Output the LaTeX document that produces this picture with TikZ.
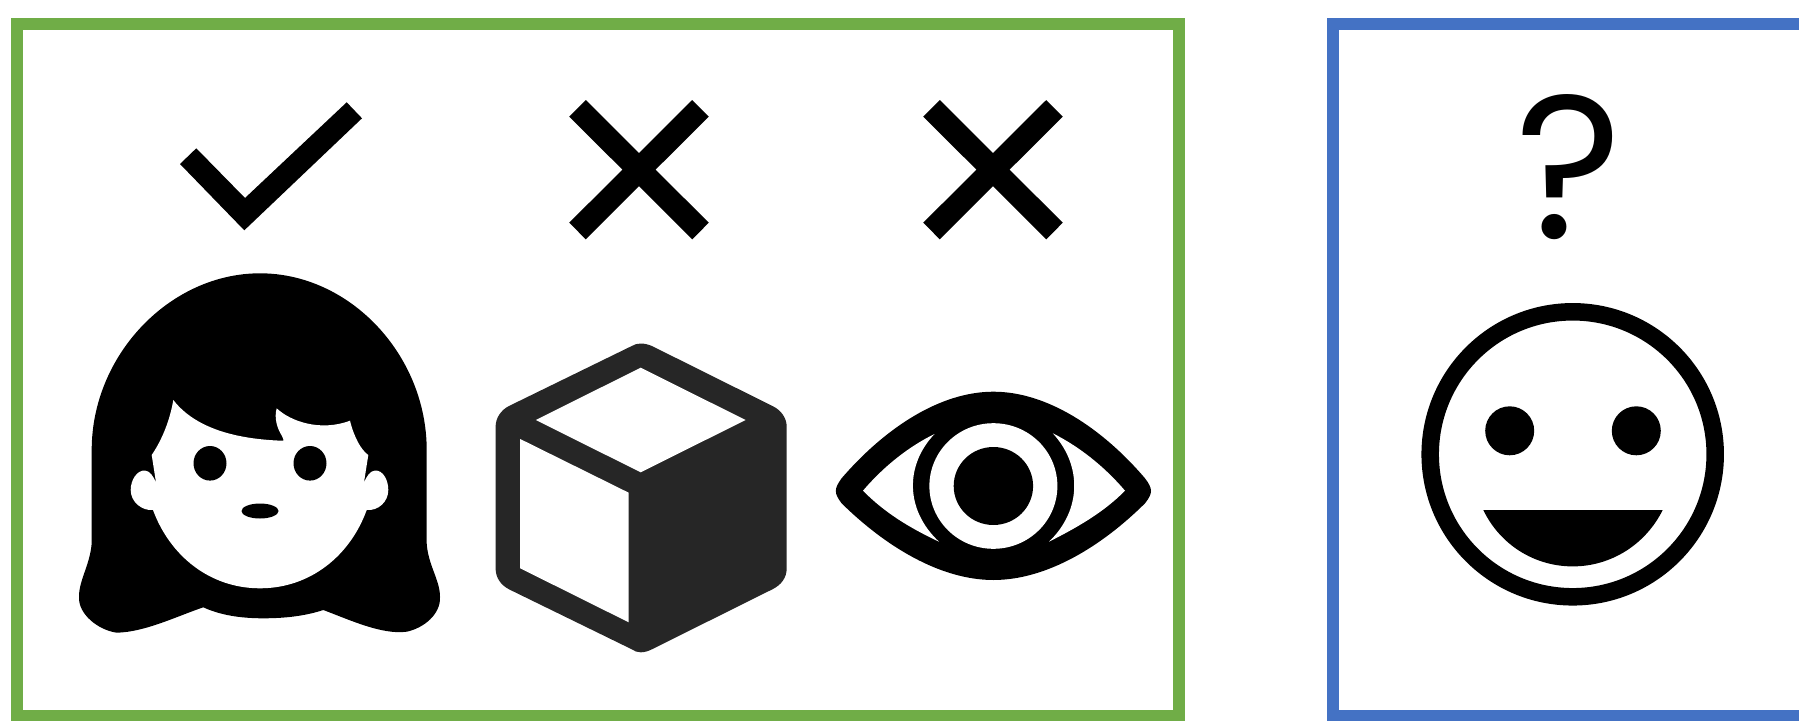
\documentclass[tikz,border=0pt]{standalone}
\usepackage{fontspec}
\usepackage{xcolor}
\setmainfont{Poppins}
\definecolor{green}{HTML}{70AD47}
\definecolor{blue}{HTML}{4472C4}
\definecolor{cubegray}{HTML}{262626}
\begin{document}
\begin{tikzpicture}[
  x=0.01cm, y=-0.01cm,
  framebox/.style={line width=0.12cm, miter limit=10},
  icon/.style={fill=black, draw=none},
  hole/.style={fill=white, draw=none},
  crossmark/.style={draw=black, line width=0.234cm}
]
\clip (0,0) rectangle (1799,721);
\fill[white] (0,0) rectangle (1799,721);

% frames
\draw[framebox, draw=green] (17,24) rectangle (1179,715.5);
\draw[framebox, draw=blue] (1333,24) rectangle (1900,715.5);

% marks above the icons
\fill[icon] (180,164) -- (196.3,148.3) -- (245,198) -- (346.7,102.3) -- (362,118.3) -- (244.3,230.3) -- cycle;
\draw[crossmark] (577.5,108.3) -- (700.5,231) (700.5,108.3) -- (577.5,231);
\draw[crossmark] (931.5,108.3) -- (1054.5,231) (1054.5,108.3) -- (931.5,231);
\node[inner sep=0pt, font=\fontsize{58}{60}\selectfont] (question) at (1569,167.5) {?};

% girl
\fill[icon] (260,273.3) .. controls (350,273.3) and (426.7,355) .. (426.7,450)
  -- (426.7,543.3) .. controls (428,565) and (440,580) .. (440,596.7)
  .. controls (441,614) and (424,628) .. (406.7,631.7)
  .. controls (382,635) and (350,620) .. (323.3,610)
  .. controls (305,616) and (285,618.3) .. (263.3,618.3)
  .. controls (240,618.3) and (220,615) .. (203.3,607.3)
  .. controls (175,617) and (145,632) .. (116.7,632.7)
  .. controls (98,630) and (78,614) .. (79,596.7)
  .. controls (79,580) and (90,565) .. (91.7,543.3)
  -- (91.7,450) .. controls (91.7,355) and (170,273.3) .. (260,273.3) -- cycle;
\fill[hole] (173.3,400) .. controls (195,428) and (235,439) .. (281.7,440.7)
  .. controls (285,441) and (283,439) .. (282,436)
  .. controls (277,428) and (274,418) .. (276.7,408.3)
  .. controls (290,421) and (320,432) .. (350,420.7)
  .. controls (354,437) and (361,450) .. (368.3,455)
  -- (364,482.3) .. controls (367,476) and (370,471) .. (375,470.5)
  .. controls (383,470) and (388.3,480) .. (388.3,490)
  .. controls (388.3,502) and (378,511) .. (366.7,510)
  .. controls (350,556) and (310,588.3) .. (260,588.3)
  .. controls (210,588.3) and (170,556) .. (153,510)
  .. controls (142,511) and (130.7,502) .. (130.7,490)
  .. controls (130.7,480) and (137,470) .. (145,470.5)
  .. controls (150,471) and (153,476) .. (156,482.3)
  -- (151.7,455) .. controls (162,440) and (170,420) .. (173.3,400) -- cycle;
\fill[icon] (210,463.3) ellipse (16.5 and 17.3);
\fill[icon] (310,463.3) ellipse (16.5 and 17.3);
\fill[icon] (260,511) ellipse (18.5 and 7.5);

% cube
\fill[cubegray] (631.8,346) .. controls (637,342.7) and (644,342.7) .. (651.9,346) -- (772.4,406)
  .. controls (781,410) and (786.7,418) .. (786.7,426.7) -- (786.7,568.3)
  .. controls (786.7,578) and (781,585) .. (772.4,589.3) -- (651.9,649.3)
  .. controls (644,653.3) and (637,653.3) .. (631.8,649.3) -- (509,589.3)
  .. controls (501,585) and (495.6,578) .. (495.6,568.3) -- (495.6,426.7)
  .. controls (495.6,418) and (501,410) .. (509,406) -- cycle;
\fill[hole] (640.7,367.7) -- (745.6,420) -- (640.7,472.3) -- (535.8,420) -- cycle;
\fill[hole] (520.2,439) -- (628.7,492.7) -- (628.7,622.3) -- (520.2,568.3) -- cycle;

% eye
\fill[icon] (841.6,478.3) .. controls (885,428) and (940,391.7) .. (993.4,391.7)
  .. controls (1047,391.7) and (1102,428) .. (1145,478.3)
  .. controls (1153,489) and (1153,493) .. (1145,503.3)
  .. controls (1102,546) and (1047,580) .. (993.4,580)
  .. controls (940,580) and (885,546) .. (841.6,503.3)
  .. controls (833.9,493) and (833.9,489) .. (841.6,478.3) -- cycle;
\fill[hole] (863,490.7) .. controls (885,465) and (910,446) .. (934.5,434)
  .. controls (905,465) and (905,510) .. (939,541.7)
  .. controls (910,528) and (885,513) .. (863,490.7) -- cycle;
\fill[hole] (1125,490.7) .. controls (1103,465) and (1078,446) .. (1052.8,433.3)
  .. controls (1082,465) and (1082,510) .. (1049,541.7)
  .. controls (1076,528) and (1103,513) .. (1125,490.7) -- cycle;
\fill[hole] (993.4,486) ellipse (64 and 62.8);
\fill[icon] (993.4,486) ellipse (39.7 and 39);

% smiley
\draw[draw=black, line width=0.175cm] (1572.7,454.3) circle (142.5);
\fill[icon] (1509.7,430.8) circle (24.5);
\fill[icon] (1636.3,430.8) circle (24.5);
\fill[icon] (1483.3,510) -- (1662.7,510) .. controls (1645.6,544.5) and (1611,566.4) .. (1572.7,566.4)
  .. controls (1534.4,566.4) and (1499.8,544.5) .. (1483.3,510) -- cycle;
\end{tikzpicture}
\end{document}
